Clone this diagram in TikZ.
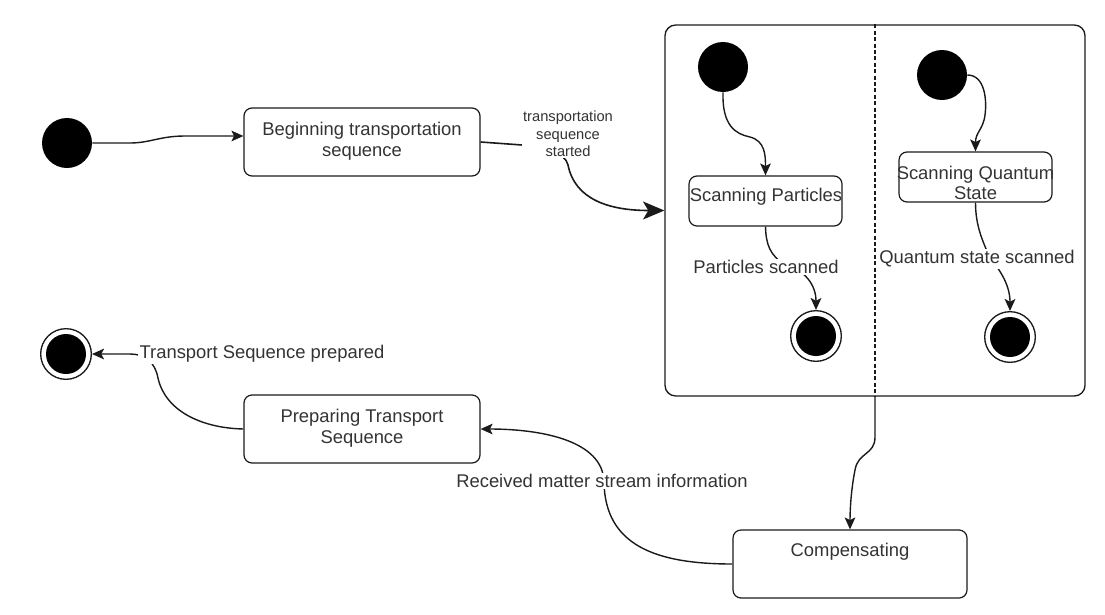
\documentclass[tikz,border=0pt]{standalone}
\usepackage{fontspec}
\setmainfont{Liberation Sans}
\usetikzlibrary{arrows.meta}
\definecolor{txt}{HTML}{333333}
\definecolor{ln}{HTML}{1A1A1A}
\begin{document}
\begin{tikzpicture}[x=0.75pt,y=-0.75pt,
  font=\fontsize{13.8}{15.5}\selectfont, text=txt,
  stbox/.style={draw=ln, rounded corners=6pt, line width=0.9pt, inner sep=0pt},
  txtnode/.style={align=center, inner sep=0pt},
  initst/.style={circle, fill=black, minimum size=37.5pt, inner sep=0pt},
  finalst/.style={circle, draw=ln, line width=1pt, minimum size=38pt, inner sep=0pt,
     path picture={\fill[black] (path picture bounding box.center) circle[radius=15pt];}},
  lbl/.style={fill=white, inner sep=1pt, align=center},
  conn/.style={draw=ln, line width=1.05pt, -{Stealth[length=9pt,width=8pt,inset=2pt]}},
  bigconn/.style={draw=ln, line width=1.2pt, -{Stealth[length=16pt,width=13.5pt,inset=4pt]}},
]
\useasboundingbox (0,0) rectangle (1105,614);

% container
\node[draw=ln, rounded corners=8pt, line width=1pt, minimum width=315pt, minimum height=278.25pt, inner sep=0pt] (cont) at (875,210.5) {};
\draw[ln, line width=0.9pt, dash pattern=on 3pt off 1.8pt] (cont.north) -- (cont.south);

% states
\node[initst] (init1) at (67,143) {};
\node[stbox, minimum width=177pt, minimum height=51pt] (begin) at (362,142) {};
\node[txtnode] (begintxt) at (362,141) {Beginning transportation\\sequence};

\node[initst] (init2) at (723,67) {};
\node[stbox, minimum width=114.75pt, minimum height=37.5pt] (sp) at (765.5,201) {};
\node[txtnode] (sptxt) at (766,197) {Scanning Particles};
\node[finalst] (f1) at (816,336) {};

\node[initst] (init3) at (942,75) {};
\node[stbox, minimum width=114.75pt, minimum height=37.5pt] (sq) at (975.5,177) {};
\node[txtnode] (sqtxt) at (975.5,183) {Scanning Quantum\\State};
\node[finalst] (f2) at (1010,337) {};

\node[stbox, minimum width=175.5pt, minimum height=51pt] (comp) at (850,564) {};
\node[txtnode] (comptxt) at (850,552) {Compensating};

\node[stbox, minimum width=177pt, minimum height=51pt] (prep) at (362,429) {};
\node[txtnode] (preptxt) at (362,428) {Preparing Transport\\Sequence};

\node[finalst] (f0) at (66,354) {};

% connectors
\draw[conn] (init1.east) -- (130,143) .. controls (150,143) and (160,136) .. (185,136) -- ([yshift=4.5pt]begin.west);

\draw[bigconn] (begin.east) -- (522,145) .. controls (545,148) and (565,152) .. (568,165) .. controls (575,200) and (610,210.5) .. (cont.west);
\node[lbl, font=\fontsize{11}{13}\selectfont] (l1) at (568,134) {transportation\\sequence\\started};

\draw[conn] (init2.south) .. controls (722,125) and (735,134) .. (750,137) .. controls (765,141) and (765.5,155) .. (sp.north);
\draw[conn] (init3.east) .. controls (985,75) and (987,100) .. (985,115) .. controls (983,130) and (975.5,132) .. (sq.north);

\draw[conn] (sp.south) .. controls (766,245) and (770,255) .. (785,265) .. controls (805,270) and (816,285) .. (f1.north);
\node[lbl] (l2) at (766,267) {Particles scanned};

\draw[conn] (sq.south) .. controls (975.5,225) and (982,240) .. (990,258) .. controls (1000,270) and (1010,285) .. (f2.north);
\node[lbl] (l3) at (977,259) {Quantum state scanned};

\draw[conn] (cont.south) -- (875,437) .. controls (875,455) and (858,452) .. (855,470) .. controls (851,490) and (850,510) .. (comp.north);

\draw[conn] (comp.west) .. controls (655,564) and (605,545) .. (604,482) .. controls (603,440) and (540,429) .. (prep.east);
\node[lbl] (l4) at (602,481) {Received matter stream information};

\draw[conn] (prep.west) .. controls (200,428) and (165,410) .. (158,378) .. controls (155,362) and (145,354) .. (130,354) -- (f0.east);
\node[lbl, anchor=west] (l5) at (138,354) {Transport Sequence prepared};
\end{tikzpicture}
\end{document}
